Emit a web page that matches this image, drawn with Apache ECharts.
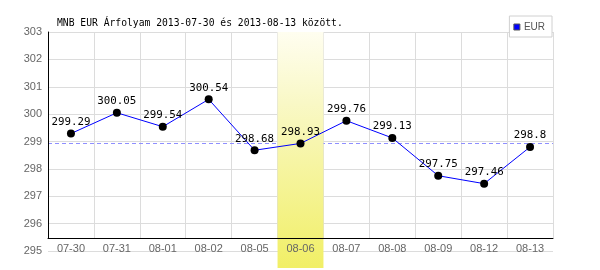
<!DOCTYPE html>
<html>
<head>
<meta charset="utf-8">
<script src="https://cdn.jsdelivr.net/npm/echarts@6/dist/echarts.min.js"></script>
<style>html,body{margin:0;padding:0;background:#fff;}#c{width:600px;height:270px;}</style>
</head>
<body>
<div id="c"></div>
<script>
var titleText = 'MNB EUR Árfolyam 2013-07-30 és 2013-08-13 között.';
var seriesName = 'EUR';
var categories = ['07-30','07-31','08-01','08-02','08-05','08-06','08-07','08-08','08-09','08-12','08-13'];
var values = [299.29, 300.05, 299.54, 300.54, 298.68, 298.93, 299.76, 299.13, 297.75, 297.46, 298.8];
var highlightDay = '08-06';
var yMin = 295, yMax = 303, yStep = 1;

var refValue = values[categories.indexOf(highlightDay)];
var bandData = categories.map(function (c) { return c === highlightDay ? 1 : '-'; });

var L = 48, R = 47, T = 32;
var dashColor = '#8f8fff';
var chart = echarts.init(document.getElementById('c'), null, {renderer: 'canvas'});
chart.setOption({
  animation: false,
  backgroundColor: '#fff',
  title: {
    text: titleText, left: 52, top: 13,
    textStyle: {fontFamily: 'DejaVu Sans Mono', fontSize: 9.7, fontWeight: 'normal', color: '#000'}
  },
  legend: {
    right: 48, top: 16, orient: 'vertical',
    backgroundColor: '#fff', borderColor: '#d0d0d0', borderWidth: 1,
    padding: [6, 7, 5, 4], itemWidth: 6, itemHeight: 6, itemGap: 4,
    textStyle: {fontFamily: 'Liberation Sans', fontSize: 10, color: '#555', padding: [0, 0, 0, -1]},
    data: [{name: seriesName, icon: 'rect', itemStyle: {color: '#0000ff', borderColor: '#555', borderWidth: 1}}],
    z: 10
  },
  grid: [
    {left: L, right: R, top: T, bottom: 19},
    {left: L, right: R, top: T, bottom: 2},
    {left: L, right: R, top: T, bottom: 32},
    {left: L, right: R, top: T, bottom: 32}
  ],
  xAxis: [
    {gridIndex: 0, type: 'category', data: categories, boundaryGap: true, show: false},
    {gridIndex: 1, type: 'category', data: categories, boundaryGap: true, show: false},
    {gridIndex: 2, type: 'category', data: categories, boundaryGap: true, z: 0,
      axisLine: {show: false}, axisTick: {show: false}, axisLabel: {show: false},
      splitLine: {show: true, lineStyle: {color: '#dcdcdc', width: 1}}},
    {gridIndex: 3, type: 'category', data: categories, boundaryGap: true, z: 3,
      axisLine: {show: true, lineStyle: {color: '#000', width: 1}}, axisTick: {show: false},
      axisLabel: {show: true, margin: 5, color: '#666', fontFamily: 'Liberation Sans', fontSize: 11, interval: 0},
      splitLine: {show: false}}
  ],
  yAxis: [
    {gridIndex: 0, type: 'value', min: yMin, max: yMax, interval: yStep, z: 0,
      axisLine: {show: false}, axisTick: {show: false},
      axisLabel: {margin: 6, color: '#666', fontFamily: 'Liberation Sans', fontSize: 11},
      splitLine: {show: true, lineStyle: {color: '#dcdcdc', width: 1}}},
    {gridIndex: 1, type: 'value', min: 0, max: 1, show: false},
    {gridIndex: 2, type: 'value', min: 0, max: 1, show: false},
    {gridIndex: 3, type: 'value', min: 0, max: 1, z: 3,
      axisLine: {show: true, lineStyle: {color: '#000', width: 1}}, axisTick: {show: false},
      axisLabel: {show: false}, splitLine: {show: false}}
  ],
  series: [
    {
      type: 'bar', xAxisIndex: 1, yAxisIndex: 1, data: bandData, z: 2,
      barWidth: '100%', barGap: '0%', silent: true,
      itemStyle: {color: new echarts.graphic.LinearGradient(0, 0, 0, 1, [
        {offset: 0, color: '#fffef0'}, {offset: 0.3, color: '#f9f8c6'}, {offset: 1, color: '#f1ef66'}])}
    },
    {
      name: seriesName, type: 'line', xAxisIndex: 0, yAxisIndex: 0, data: values, z: 5,
      symbol: 'circle', symbolSize: 8,
      lineStyle: {color: '#0000ff', width: 1},
      itemStyle: {color: '#000'},
      label: {show: true, position: 'top', distance: 2, color: '#000',
        fontFamily: 'DejaVu Sans Mono', fontSize: 10.8},
      markLine: {
        silent: true, symbol: 'none', z: 1,
        itemStyle: {color: dashColor},
        lineStyle: {color: dashColor, type: [4, 3], width: 1, opacity: 1},
        emphasis: {disabled: true},
        label: {show: false},
        data: [{yAxis: refValue, itemStyle: {color: dashColor}, lineStyle: {color: dashColor, type: [4, 3], width: 1}}]
      }
    }
  ]
});
</script>
</body>
</html>
